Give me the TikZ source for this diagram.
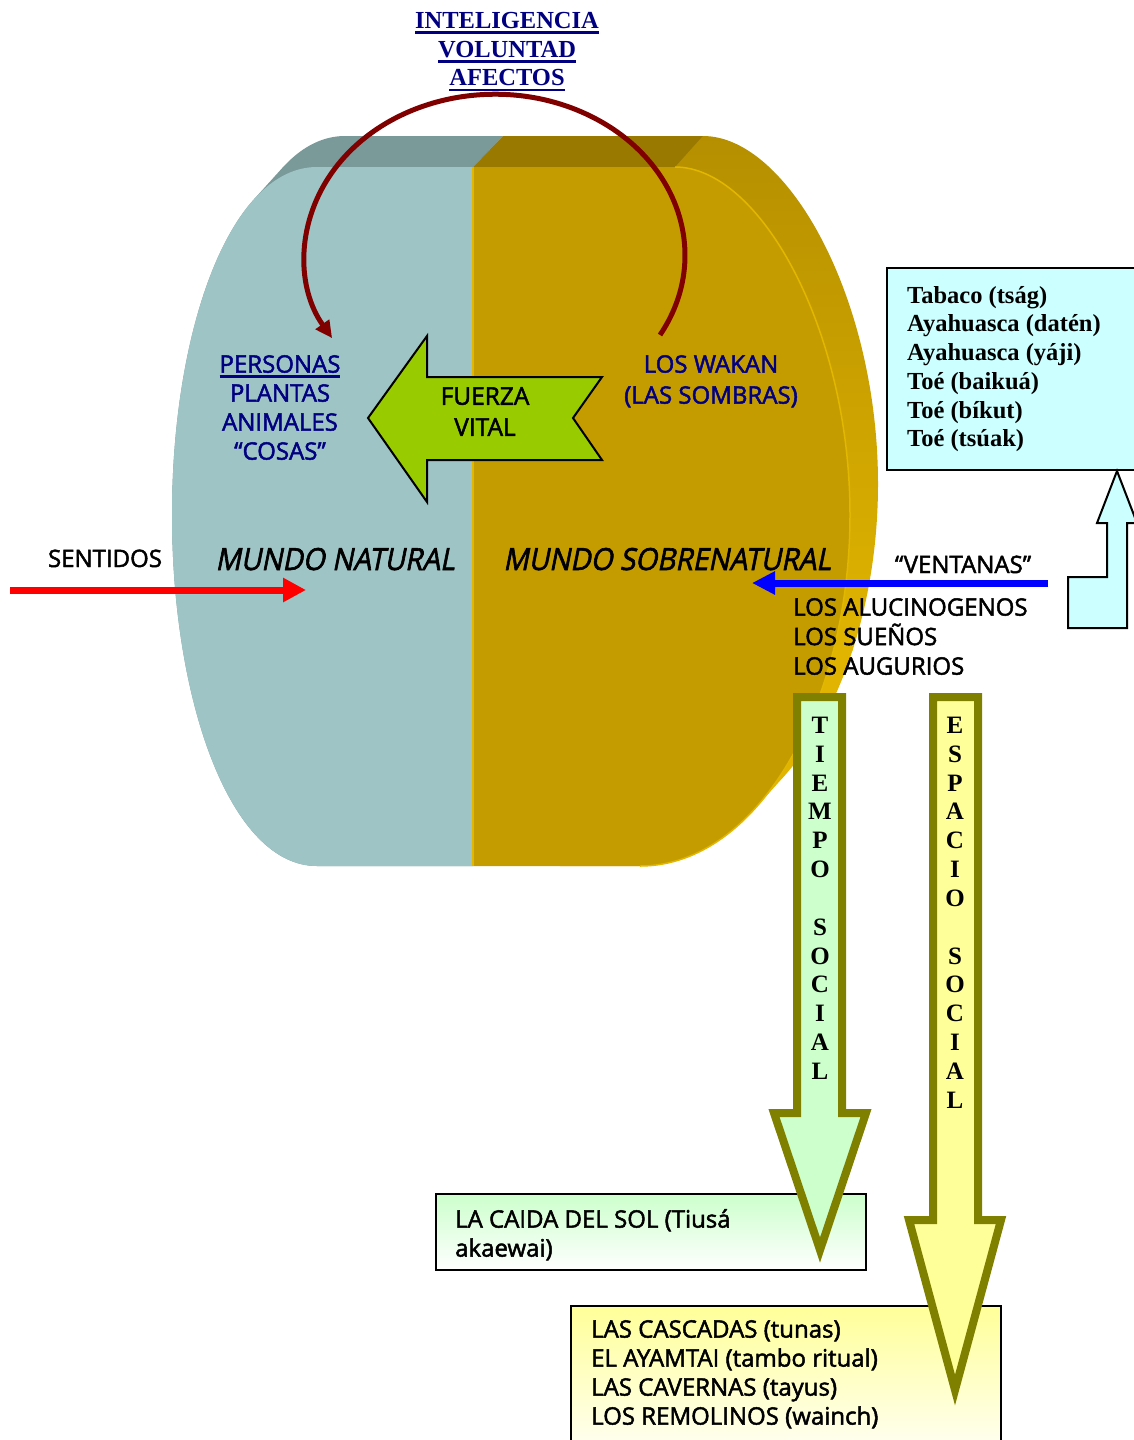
\documentclass[tikz,border=0pt]{standalone}
\usepackage{fontspec}
\setmainfont{Open Sans}[FakeBold=2]
\newfontfamily\tnr{Liberation Serif}
\newfontfamily\obl{Open Sans}[FakeSlant=0.2,FakeStretch=0.92,FakeBold=2]
\usetikzlibrary{arrows.meta}
\newcommand\fs[2]{\fontsize{#1}{#2}\selectfont}
\newcommand\ulb[2]{\setbox0\hbox{#2}\rlap{\rule[-#1]{\wd0}{2.6pt}}\box0}
\definecolor{ink}{HTML}{000080}
\definecolor{fteal}{HTML}{9EC4C5}
\definecolor{fgold}{HTML}{C49C00}
\definecolor{tteal}{HTML}{7A9999}
\definecolor{tgold}{HTML}{9A7900}
\definecolor{sidetop}{HTML}{B48E00}
\definecolor{sidebot}{HTML}{E0B400}
\definecolor{hilite}{HTML}{E2B700}
\definecolor{arcred}{HTML}{800000}
\definecolor{fv}{HTML}{99CC00}
\definecolor{olivebd}{HTML}{808000}
\definecolor{mint}{HTML}{CCFFCC}
\definecolor{lemon}{HTML}{FFFF99}
\definecolor{aqua}{HTML}{CCFFFF}
% front face of the drum, shifted by (#1,#2)
\def\drumpath#1#2{({317+#1},{167+#2}) -- ({675+#1},{167+#2})
  .. controls ({760+#1},{167+#2}) and ({850+#1},{330+#2}) .. ({850+#1},{515+#2})
  .. controls ({850+#1},{700+#2}) and ({760+#1},{866+#2}) .. ({640+#1},{866+#2})
  -- ({317+#1},{866+#2})
  .. controls ({230+#1},{866+#2}) and ({172+#1},{700+#2}) .. ({172+#1},{515+#2})
  .. controls ({172+#1},{330+#2}) and ({230+#1},{167+#2}) .. ({317+#1},{167+#2}) -- cycle}
\begin{document}
\begin{tikzpicture}[x=1pt,y=-1pt,
  lbl/.style={inner sep=0pt,font=\fs{24}{29}},
  serifbold/.style={inner sep=0pt,font=\tnr\bfseries\fs{24.5}{28.7}},
  vlet/.style={inner sep=0pt,anchor=north,align=center,font=\tnr\bfseries\fs{25}{28.8}},
  mundo/.style={inner sep=0pt,anchor=base,font=\obl\fs{30.5}{36}},
  blockarrow/.style={line width=8pt,draw=olivebd,line join=miter},
  thinbox/.style={draw=black,line width=1.6pt}]
\fill[white] (0,0) rectangle (1133,1440);
\useasboundingbox (0,0) rectangle (1133,1440);

% ---------- drum: extrusion ----------
\begin{scope}
  \clip foreach \t in {0,0.0625,...,1} {\drumpath{28*\t}{0-31*\t}};
  \shade[top color=sidetop,bottom color=sidebot] (560,120) rectangle (920,650);
  \fill[sidebot] (560,649) rectangle (920,900);
  \fill[tteal] (0,100) -- (538,100) -- (473,167) -- (473,900) -- (0,900) -- cycle;
  \fill[tgold] (538,100) -- (735,100) -- (675,167) -- (473,167) -- cycle;
\end{scope}
% ---------- drum: front face ----------
\begin{scope}
  \clip \drumpath{0}{0};
  \fill[fteal] (0,100) rectangle (473,900);
  \fill[fgold] (473,100) rectangle (920,900);
\end{scope}
\draw[hilite,line width=2pt] (473,167) -- (473,866);
\draw[hilite,line width=1.5pt] (675,167) .. controls (760,167) and (850,330) .. (850,515)
  .. controls (850,700) and (760,866) .. (640,866);

% ---------- top labels ----------
\node[serifbold,anchor=north,align=center,text=ink] (intel) at (507,12)
  {\ulb{5.5pt}{INTELIGENCIA}\\\ulb{5.5pt}{VOLUNTAD}\\\ulb{5.5pt}{AFECTOS}};

% ---------- fuerza vital ----------
\draw[fill=fv,draw=black,line width=2pt,line join=miter]
  (368,418) -- (427,336) -- (427,377) -- (602,377) -- (573,418) -- (602,460)
  -- (427,460) -- (427,502) -- cycle;
\node[lbl,anchor=north,align=center,font=\fs{24.5}{31}] (fuerza) at (485,387) {FUERZA\\VITAL};

\node[lbl,anchor=north,align=center,text=ink] (personas) at (280,355)
  {\ulb{5.3pt}{PERSONAS}\\PLANTAS\\ANIMALES\\“COSAS”};
\node[lbl,anchor=north,align=center,text=ink,font=\fs{24}{31}] (wakan) at (711,355)
  {LOS WAKAN\\(LAS SOMBRAS)};

% ---------- red arc ----------
\coordinate (wakantop) at (660,335);
\draw[arcred,line width=5pt,-{Triangle[length=17pt,width=16pt]}]
  (wakantop) arc[start angle=29.7,end angle=-211,x radius=190,y radius=161]
  coordinate (personastop);

% ---------- mundo labels ----------
\node[mundo] (mnat) at (335,570) {MUNDO NATURAL};
\node[mundo] (msob) at (667,570) {MUNDO SOBRENATURAL};

% ---------- sentidos ----------
\node[lbl,anchor=base] (sentidos) at (105,567) {SENTIDOS};
\coordinate (sentA) at (10,590);
\coordinate (sentB) at (306,590);
\draw[red,line width=7pt,-{Triangle[length=23pt,width=23pt]}] (sentA) -- (sentB);

% ---------- ventanas ----------
\node[lbl,anchor=base] (ventanas) at (963,573) {“VENTANAS”};
\coordinate (ventA) at (1048,583);
\coordinate (ventB) at (752,583);
\draw[blue,line width=7pt,-{Triangle[length=23pt,width=22pt]}] (ventA) -- (ventB);
\node[lbl,anchor=north west,align=left,font=\fs{24}{29.5}] (alucin) at (793,598)
  {LOS ALUCINOGENOS\\LOS SUEÑOS\\LOS AUGURIOS};

% ---------- plantas box ----------
\draw[fill=aqua,draw=black,line width=2pt] (887,268) rectangle (1145,470);
\node[serifbold,anchor=north west,align=left] (plantas) at (907,286)
  {Tabaco (tság)\\Ayahuasca (datén)\\Ayahuasca (yáji)\\Toé (baikuá)\\Toé (bíkut)\\Toé (tsúak)};
\draw[fill=aqua,draw=black,line width=2pt,line join=miter]
  (1068,577) -- (1107,577) -- (1107,523) -- (1097,523) -- (1117,471) -- (1137,523)
  -- (1127,523) -- (1127,628) -- (1068,628) -- cycle;

% ---------- bottom boxes ----------
\shade[top color=mint,bottom color=white] (436,1194) rectangle (866,1270);
\draw[thinbox] (436,1194) rectangle (866,1270);
\node[lbl,anchor=north west,align=left] (caida) at (455,1209)
  {LA CAIDA DEL SOL (Tiusá\\akaewai)};
\shade[top color=lemon,bottom color=white] (571,1306) rectangle (1001,1470);
\draw[thinbox] (571,1306) rectangle (1001,1470);
\node[lbl,anchor=north west,align=left] (cascadas) at (591,1320)
  {LAS CASCADAS (tunas)\\EL AYAMTAI (tambo ritual)\\LAS CAVERNAS (tayus)\\LOS REMOLINOS (wainch)};

% ---------- tiempo / espacio arrows ----------
\filldraw[blockarrow,fill=mint] (797,697) -- (842,697) -- (842,1113) -- (866,1113)
  -- (820,1250) -- (774,1113) -- (797,1113) -- cycle;
\filldraw[blockarrow,fill=lemon] (933,697) -- (978,697) -- (978,1220) -- (1001,1220)
  -- (955,1390) -- (909,1220) -- (933,1220) -- cycle;
\node[vlet] (tiempo) at (820,717) {T\\I\\E\\M\\P\\O\\[29pt]S\\O\\C\\I\\A\\L};
\node[vlet] (espacio) at (955,717) {E\\S\\P\\A\\C\\I\\O\\[29pt]S\\O\\C\\I\\A\\L};
\end{tikzpicture}
\end{document}
